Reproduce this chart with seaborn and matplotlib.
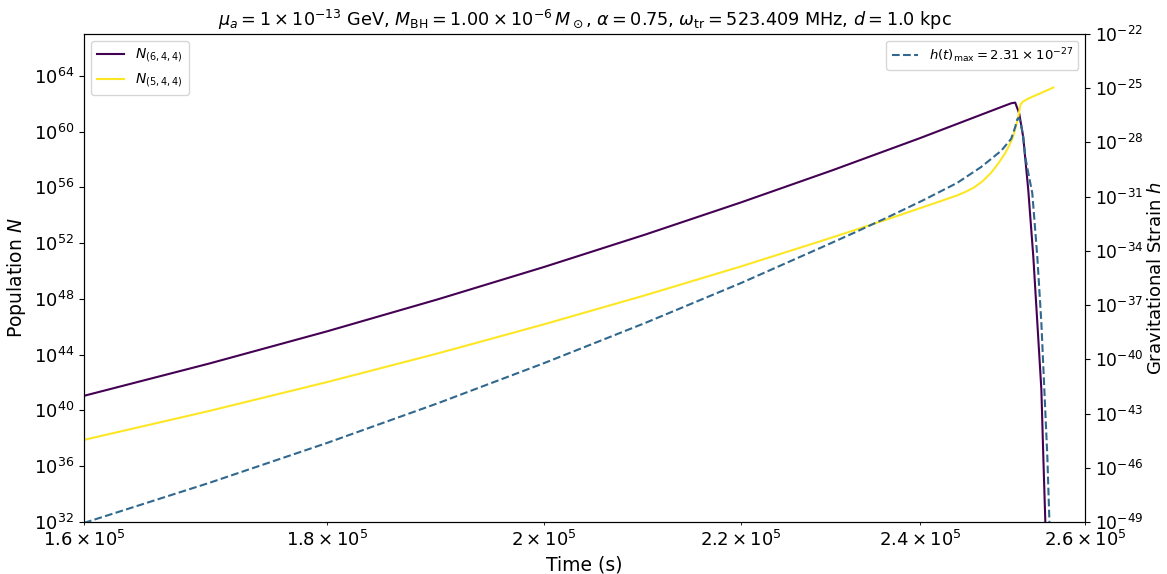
import numpy as np
import matplotlib
matplotlib.use("Agg")
import matplotlib.pyplot as plt
import seaborn as sns

# --- values (times in s, log10 of the quantity) ---
t_n6 = [1.600e5, 1.700e5, 1.800e5, 1.900e5, 2.000e5, 2.100e5, 2.200e5, 2.300e5,
        2.400e5, 2.500e5, 2.5086e5, 2.5135e5, 2.5184e5, 2.5233e5, 2.5295e5,
        2.5357e5, 2.5406e5, 2.5456e5, 2.5480e5, 2.5505e5, 2.5530e5]
log_n6 = [41.05, 43.36, 45.67, 47.98, 50.29, 52.60, 54.91, 57.22,
          59.53, 61.84, 62.03, 62.08, 61.30, 59.60, 55.80,
          51.00, 46.30, 41.50, 36.70, 32.00, 28.00]

t_n5 = [1.600e5, 1.700e5, 1.800e5, 1.900e5, 2.000e5, 2.100e5, 2.200e5, 2.2866e5,
        2.3245e5, 2.3632e5, 2.4037e5, 2.4437e5, 2.4540e5, 2.4640e5, 2.4742e5,
        2.4843e5, 2.4928e5, 2.5013e5, 2.5062e5, 2.5111e5, 2.5140e5, 2.5172e5,
        2.5200e5, 2.5230e5, 2.5307e5, 2.5605e5]
log_n5 = [37.89, 39.96, 42.03, 44.10, 46.18, 48.25, 50.32, 52.13,
          52.92, 53.73, 54.58, 55.42, 55.69, 56.00, 56.45,
          57.05, 57.70, 58.45, 59.00, 59.65, 60.30, 61.05,
          61.95, 62.15, 62.40, 63.16]

t_h = [1.600e5, 1.700e5, 1.800e5, 1.900e5, 2.000e5, 2.100e5, 2.200e5, 2.2866e5,
       2.3245e5, 2.3632e5, 2.4037e5, 2.4437e5, 2.4723e5, 2.4965e5, 2.5086e5,
       2.5135e5, 2.5160e5, 2.5175e5, 2.5200e5, 2.5230e5, 2.5258e5, 2.5300e5,
       2.5344e5, 2.5406e5, 2.5456e5, 2.5493e5, 2.5530e5, 2.5555e5, 2.5570e5]
log_h = [-49.05, -46.84, -44.63, -42.42, -40.21, -38.00, -35.79, -33.84,
         -33.00, -32.13, -31.20, -30.24, -29.36, -28.46, -27.80,
         -27.15, -26.72, -26.64, -26.85, -27.60, -28.80, -29.80,
         -30.80, -34.33, -37.99, -41.70, -45.40, -48.90, -51.00]

c_n6 = "#440154"
c_n5 = "#fde725"
c_h = "#31688e"

fig, ax = plt.subplots(figsize=(11.67, 5.74), dpi=100)
fig.subplots_adjust(left=0.072, right=0.9297, top=0.9408, bottom=0.0906)

sns.lineplot(x=t_n6, y=10.0 ** np.array(log_n6), ax=ax, color=c_n6,
             linewidth=1.5, label=r"$N_{(6,4,4)}$")
sns.lineplot(x=t_n5, y=10.0 ** np.array(log_n5), ax=ax, color=c_n5,
             linewidth=1.5, label=r"$N_{(5,4,4)}$")
ax.set_xscale("log")
ax.set_yscale("log")
ax.set_xlim(1.6e5, 2.6e5)
ax.set_ylim(1e32, 1e67)
ax.set_xlabel("Time (s)", fontsize=13.5)
ax.set_ylabel(r"Population $N$", fontsize=13.5)
ax.tick_params(axis="both", which="both", labelsize=13)
ax.legend(loc="upper left", fontsize=10)

ax2 = ax.twinx()
sns.lineplot(x=t_h, y=10.0 ** np.array(log_h), ax=ax2, color=c_h,
             linewidth=1.5, linestyle="--",
             label=r"$h(t)_{\rm max} = 2.31 \times 10^{-27}$")
ax2.set_yscale("log")
ax2.set_ylim(1e-49, 1e-22)
ax2.set_ylabel(r"Gravitational Strain $h$", fontsize=13, labelpad=3)
ax2.tick_params(axis="y", which="both", labelsize=12.3)
ax2.legend(loc="upper right", fontsize=9.5)

ax.set_title(r"$\mu_a = 1 \times 10^{-13}$ GeV, $M_{\rm BH} = 1.00 \times 10^{-6}\,M_\odot$, "
             r"$\alpha = 0.75$, $\omega_{\rm tr} = 523.409$ MHz, $d = 1.0$ kpc",
             fontsize=12.7)

fig.savefig("out.png", dpi=100)
